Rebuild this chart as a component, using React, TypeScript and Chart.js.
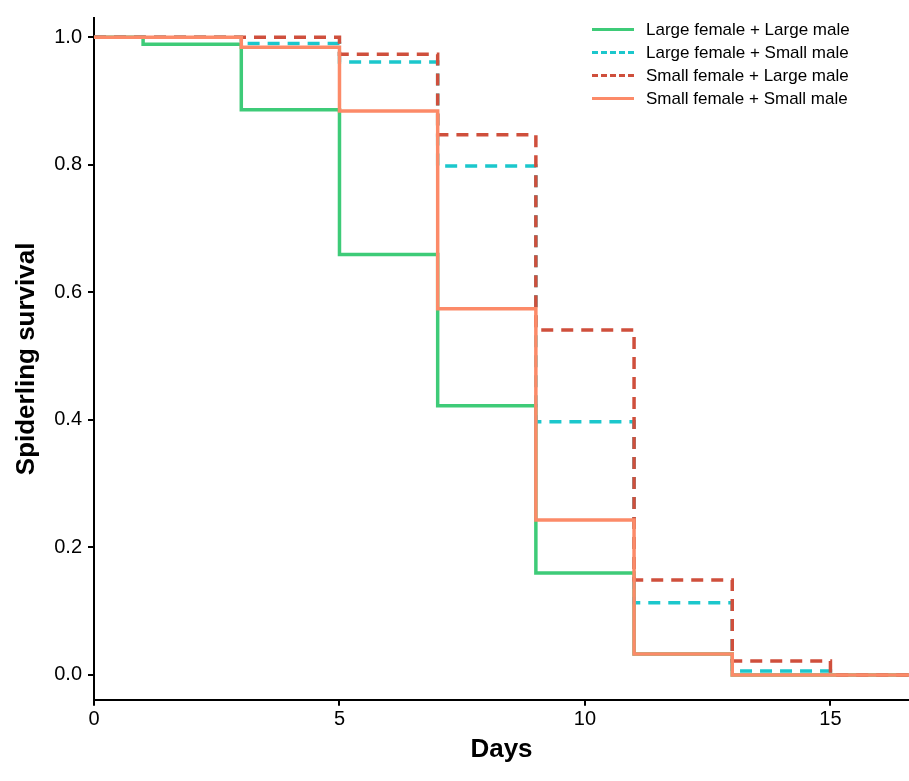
import React, { useRef, useEffect } from "react";
import { Chart, registerables } from "chart.js";

Chart.register(...registerables);

const days = [0, 1, 3, 5, 7, 9, 11, 13, 15, 16.6];
const largeLarge = [1.0, 0.989, 0.886, 0.659, 0.422, 0.16, 0.033, 0.0, 0.0, 0.0];
const largeSmall = [1.0, 1.0, 0.99, 0.961, 0.798, 0.397, 0.113, 0.006, 0.0, 0.0];
const smallLarge = [1.0, 1.0, 1.0, 0.973, 0.847, 0.541, 0.149, 0.022, 0.0, 0.0];
const smallSmall = [1.0, 1.0, 0.984, 0.884, 0.574, 0.243, 0.033, 0.0, 0.0, 0.001];
const xTicks = [0, 5, 10, 15];
const yTicks = [0, 0.2, 0.4, 0.6, 0.8, 1.0];

const series = [
  { label: "Large female + Large male", values: largeLarge, color: "#3ecb78", dash: [] as number[], order: 4 },
  { label: "Large female + Small male", values: largeSmall, color: "#1bc7cc", dash: [12, 8], order: 3 },
  { label: "Small female + Large male", values: smallLarge, color: "#cf4f3c", dash: [12, 8], order: 2 },
  { label: "Small female + Small male", values: smallSmall, color: "#fc8a68", dash: [] as number[], order: 1 },
];

const font = "'Liberation Sans', Arial, sans-serif";

const App: React.FC = () => {
  const chartRef = useRef<HTMLCanvasElement | null>(null);

  useEffect(() => {
    document.body.style.margin = "0";
    document.body.style.overflow = "hidden";
    if (!chartRef.current) return;
    const chart = new Chart(chartRef.current, {
      type: "line",
      data: {
        datasets: series.map((s) => ({
          label: s.label,
          data: days.map((d, i) => ({ x: d, y: s.values[i] })),
          borderColor: s.color,
          borderDash: s.dash,
          borderWidth: 3.5,
          stepped: true,
          pointRadius: 0,
          fill: false,
          order: s.order,
        })),
      },
      options: {
        animation: false,
        responsive: false,
        layout: { padding: { top: 0, right: 0, left: 7, bottom: 12 } },
        plugins: { legend: { display: false }, tooltip: { enabled: false } },
        scales: {
          x: {
            type: "linear",
            min: 0,
            max: 16.6,
            afterBuildTicks: (axis) => {
              axis.ticks = xTicks.map((v) => ({ value: v }));
            },
            grid: { display: true, drawOnChartArea: false, tickLength: 6, color: "#000", lineWidth: 2 },
            border: { color: "#000", width: 2 },
            ticks: {
              color: "#000",
              padding: 2,
              font: { size: 20, family: font },
              callback: (v) => String(v),
            },
            title: {
              display: true,
              text: "Days",
              color: "#000",
              font: { size: 26, weight: "bold", family: font },
              padding: { top: 0 },
            },
          },
          y: {
            min: -0.039,
            max: 1.03,
            afterBuildTicks: (axis) => {
              axis.ticks = yTicks.map((v) => ({ value: v }));
            },
            grid: { display: true, drawOnChartArea: false, tickLength: 6, color: "#000", lineWidth: 2 },
            border: { color: "#000", width: 2 },
            ticks: {
              color: "#000",
              padding: 6,
              font: { size: 20, family: font },
              callback: (v) => Number(v).toFixed(1),
            },
            title: {
              display: true,
              text: "Spiderling survival",
              color: "#000",
              font: { size: 26, weight: "bold", family: font },
              padding: { bottom: 6 },
            },
          },
        },
      },
    });
    return () => chart.destroy();
  }, []);

  return (
    <div style={{ position: "relative", width: 909, height: 781, background: "#fff" }}>
      <canvas ref={chartRef} width={909} height={781} style={{ display: "block" }} />
      <div style={{ position: "absolute", left: 592, top: 18, fontFamily: font, fontSize: 17, color: "#000" }}>
        {series.map((s) => (
          <div key={s.label} style={{ display: "flex", alignItems: "center", height: 23 }}>
            <div
              style={{
                width: 42,
                height: 0,
                borderTop: `3.5px ${s.dash.length ? "dashed" : "solid"} ${s.color}`,
                marginRight: 12,
              }}
            />
            <span>{s.label}</span>
          </div>
        ))}
      </div>
    </div>
  );
};

export default App;
